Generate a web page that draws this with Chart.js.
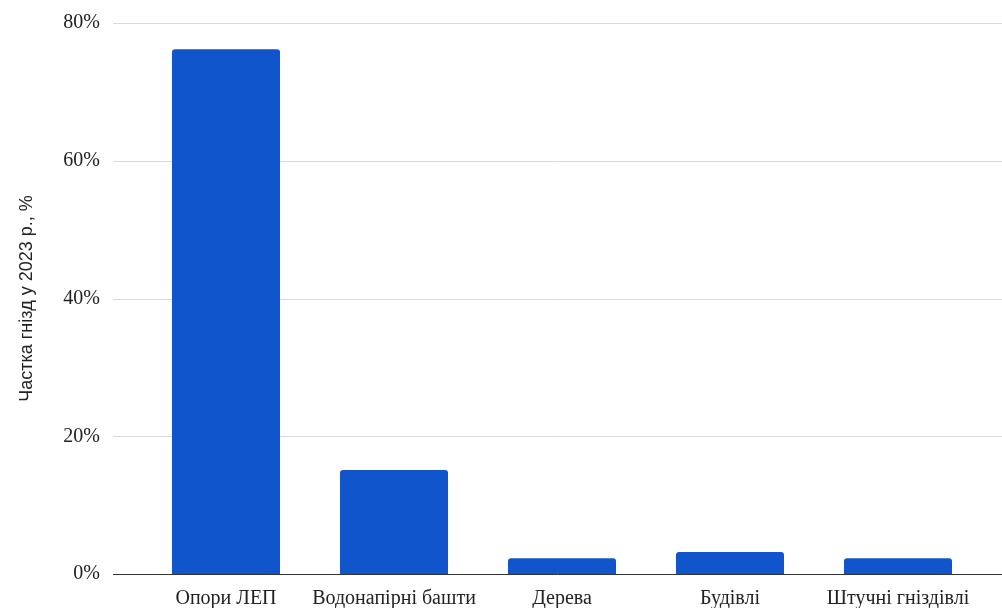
<!DOCTYPE html>
<html>
<head>
<meta charset="utf-8">
<script src="https://cdn.jsdelivr.net/npm/chart.js@4"></script>
<style>
  html, body { margin: 0; padding: 0; background: #fff; }
  #wrap { width: 1002px; height: 608px; }
</style>
</head>
<body>
<div id="wrap"><canvas id="chart"></canvas></div>
<script>
const categories = ["Опори ЛЕП", "Водонапірні башти", "Дерева", "Будівлі", "Штучні гніздівлі"];
const shares = [76.2, 15.1, 2.3, 3.2, 2.3];
const yTicks = [0, 20, 40, 60, 80];

const serif = "'Liberation Serif', 'DejaVu Serif', serif";
const sans = "'Liberation Sans', Arial, sans-serif";

// grid lines run wider than the bar area, so draw them ourselves
const gridPlugin = {
  id: "wideGrid",
  beforeDatasetsDraw(chart) {
    const ctx = chart.ctx;
    const y = chart.scales.y;
    ctx.save();
    ctx.strokeStyle = "#d9d9d9";
    ctx.lineWidth = 1;
    yTicks.forEach((v) => {
      if (v === 0) return;
      const py = Math.round(y.getPixelForValue(v)) + 0.5;
      ctx.beginPath();
      ctx.moveTo(113, py);
      ctx.lineTo(chart.width, py);
      ctx.stroke();
    });
    ctx.restore();
  },
  afterDatasetsDraw(chart) {
    const ctx = chart.ctx;
    const py = Math.round(chart.scales.y.getPixelForValue(0)) + 0.5;
    ctx.save();
    ctx.strokeStyle = "#333";
    ctx.lineWidth = 1;
    ctx.beginPath();
    ctx.moveTo(113, py);
    ctx.lineTo(chart.width, py);
    ctx.stroke();
    ctx.restore();
  },
};

new Chart(document.getElementById("chart"), {
  type: "bar",
  data: {
    labels: categories,
    datasets: [
      {
        data: shares,
        backgroundColor: "#1155cc",
        borderRadius: { topLeft: 3, topRight: 3 },
        borderSkipped: "bottom",
        categoryPercentage: 1,
        barPercentage: 0.643,
      },
    ],
  },
  options: {
    responsive: true,
    maintainAspectRatio: false,
    animation: false,
    layout: { padding: { top: 23, right: 20, left: 0, bottom: 0 } },
    plugins: {
      legend: { display: false },
      tooltip: { enabled: false },
    },
    scales: {
      x: {
        grid: { display: false, drawTicks: false },
        border: { display: false },
        ticks: {
          color: "#222",
          padding: 13,
          maxRotation: 0,
          autoSkip: false,
          font: { family: serif, size: 20 },
        },
        afterFit(scale) {
          scale.height = 34;
        },
      },
      y: {
        min: 0,
        max: 80,
        afterBuildTicks(scale) {
          scale.ticks = yTicks.map((v) => ({ value: v }));
        },
        grid: { display: false, drawTicks: true, tickLength: 42 },
        border: { display: false },
        ticks: {
          color: "#222",
          padding: 0,
          font: { family: serif, size: 20 },
          callback: (v) => v + "%",
        },
        title: {
          display: true,
          text: "Частка гнізд у 2023 р., %",
          color: "#222",
          padding: { top: 16, bottom: 0 },
          font: { family: sans, size: 18 },
        },
        afterFit(scale) {
          scale.width = 142;
        },
      },
    },
  },
  plugins: [gridPlugin],
});
</script>
</body>
</html>
